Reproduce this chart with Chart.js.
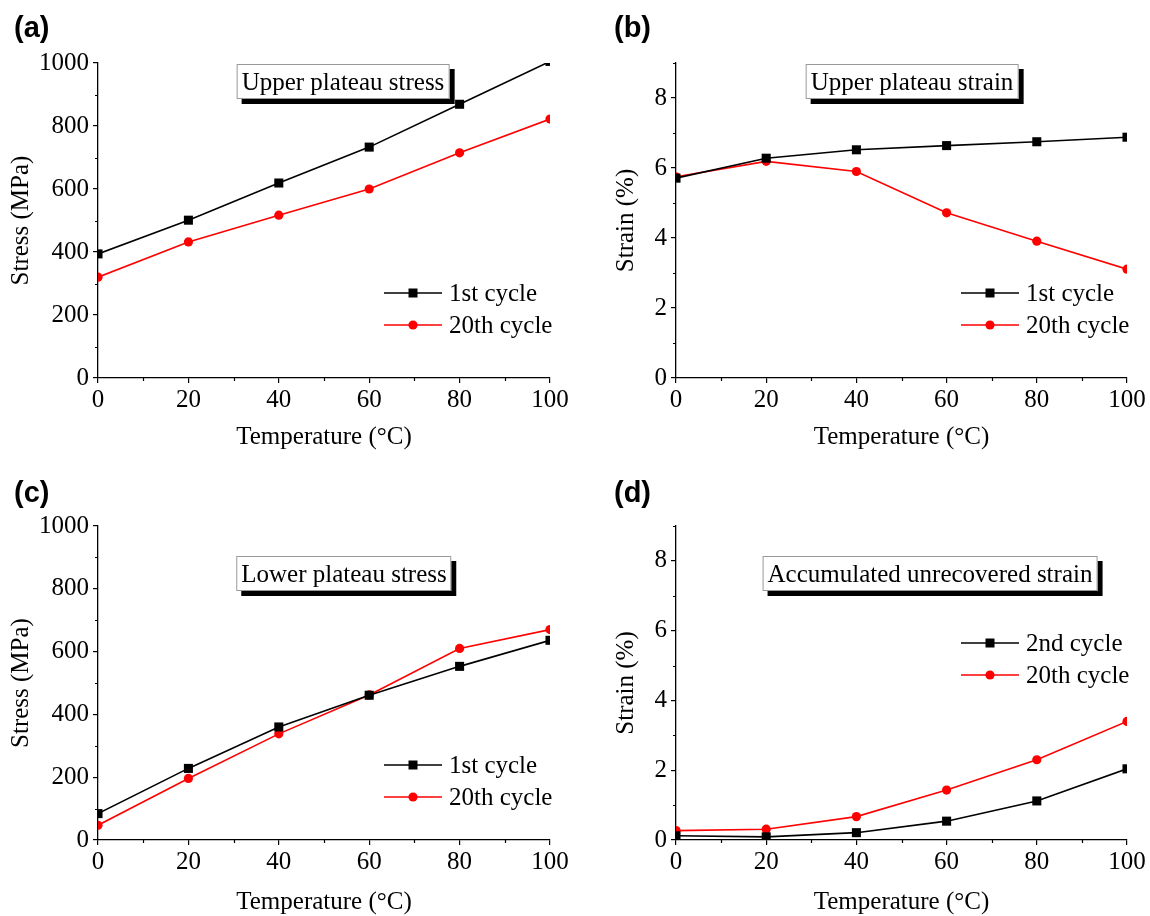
<!DOCTYPE html>
<html>
<head>
<meta charset="utf-8">
<script src="https://cdn.jsdelivr.net/npm/chart.js@4.4.0/dist/chart.umd.min.js"></script>
<style>
  body { margin: 0; background: #fff; }
  #page { position: relative; width: 1150px; height: 916px; }
  .panel { position: absolute; width: 575px; height: 458px; }
  .tag { position: absolute; font: bold 29px "Liberation Sans", Arial, sans-serif; line-height: 1; color: #000; }
  .box {
    position: absolute; transform: translateX(-50%);
    font: 25px "Liberation Serif", "Times New Roman", serif; color: #000;
    background: #fff; border: 1px solid #999; box-shadow: 5px 5px 0 #000;
    padding: 0 4px; line-height: 33px; white-space: nowrap;
  }
</style>
</head>
<body>
<div id="page">
  <div class="panel" style="left:0;top:0"><canvas id="chartA"></canvas></div>
  <div class="panel" style="left:575px;top:0"><canvas id="chartB"></canvas></div>
  <div class="panel" style="left:0;top:458px"><canvas id="chartC"></canvas></div>
  <div class="panel" style="left:575px;top:458px"><canvas id="chartD"></canvas></div>

  <div class="tag" style="left:14px;top:13px">(a)</div>
  <div class="tag" style="left:614px;top:13px">(b)</div>
  <div class="tag" style="left:14px;top:478px">(c)</div>
  <div class="tag" style="left:614px;top:478px">(d)</div>

  <div class="box" style="left:343px;top:64px">Upper plateau stress</div>
  <div class="box" style="left:912px;top:64px">Upper plateau strain</div>
  <div class="box" style="left:344px;top:556px">Lower plateau stress</div>
  <div class="box" style="left:930px;top:556px">Accumulated unrecovered strain</div>
</div>

<script>
// temperatures (°C)
const temps = [0, 20, 40, 60, 80, 100];

// (a) upper plateau stress, MPa
const upperStress1 = [394, 501, 619, 733, 869, 1005];
const upperStress20 = [320, 432, 517, 600, 715, 822];

// (b) upper plateau strain, %
const upperStrain1 = [5.71, 6.28, 6.52, 6.64, 6.75, 6.88];
const upperStrain20 = [5.75, 6.19, 5.90, 4.72, 3.91, 3.11];

// (c) lower plateau stress, MPa
const lowerStress1 = [84, 228, 360, 461, 553, 636];
const lowerStress20 = [47, 196, 338, 462, 610, 670];

// (d) accumulated unrecovered strain, %
const unrecStrain2 = [0.12, 0.09, 0.21, 0.54, 1.12, 2.04];
const unrecStrain20 = [0.27, 0.31, 0.67, 1.43, 2.30, 3.40];

const SERIF = '"Liberation Serif", "Times New Roman", serif';

// minor ticks + inline legend drawn inside the plot area
const decor = {
  id: 'decor',
  afterDraw(chart, args, opts) {
    const ctx = chart.ctx;
    const xs = chart.scales.x, ys = chart.scales.y;
    const area = chart.chartArea;
    ctx.save();
    ctx.strokeStyle = '#000';
    ctx.lineWidth = 1.2;
    ctx.beginPath();
    for (let v = opts.xMinor; v < xs.max + 1e-9; v += opts.xMinor * 2) {
      const px = Math.round(xs.getPixelForValue(v)) + 0.5;
      ctx.moveTo(px, area.bottom);
      ctx.lineTo(px, area.bottom + 3);
    }
    for (let v = opts.yMinor; v < ys.max + 1e-9; v += opts.yMinor * 2) {
      const py = Math.round(ys.getPixelForValue(v)) + 0.5;
      ctx.moveTo(area.left, py);
      ctx.lineTo(area.left - 3, py);
    }
    ctx.stroke();

    // legend
    ctx.font = '25px ' + SERIF;
    ctx.textBaseline = 'middle';
    chart.data.datasets.forEach((ds, i) => {
      const y = area.bottom + opts.legendY[i];
      const x0 = area.right - 166, x1 = area.right - 108, xm = area.right - 137;
      ctx.strokeStyle = ds.borderColor;
      ctx.lineWidth = 1.6;
      ctx.beginPath();
      ctx.moveTo(x0, y);
      ctx.lineTo(x1, y);
      ctx.stroke();
      ctx.fillStyle = ds.backgroundColor;
      ctx.beginPath();
      if (ds.pointStyle === 'rect') {
        ctx.rect(xm - 4.5, y - 4.5, 9, 9);
      } else {
        ctx.arc(xm, y, 4.6, 0, Math.PI * 2);
      }
      ctx.fill();
      ctx.fillStyle = '#000';
      ctx.fillText(ds.label, area.right - 101, y + 1);
    });
    ctx.restore();
  }
};

function pts(vals) {
  return temps.map((t, i) => ({ x: t, y: vals[i] }));
}

function makeChart(id, d) {
  new Chart(document.getElementById(id), {
    type: 'line',
    data: {
      datasets: [
        {
          label: d.names[0], data: pts(d.series[0]),
          borderColor: '#000', backgroundColor: '#000',
          borderWidth: 1.6, pointStyle: 'rect', pointRadius: 6.4, pointBorderWidth: 0,
          clip: 0
        },
        {
          label: d.names[1], data: pts(d.series[1]),
          borderColor: '#ff0000', backgroundColor: '#ff0000',
          borderWidth: 1.6, pointStyle: 'circle', pointRadius: 4.6, pointBorderWidth: 0,
          clip: 0
        }
      ]
    },
    options: {
      responsive: true,
      maintainAspectRatio: false,
      animation: false,
      layout: { padding: { top: d.padTop, right: d.padRight, left: 0, bottom: 0 } },
      plugins: {
        legend: { display: false },
        tooltip: { enabled: false },
        decor: { xMinor: 10, yMinor: d.yMinor, legendY: d.legendY }
      },
      scales: {
        x: {
          type: 'linear', min: 0, max: 100,
          ticks: {
            stepSize: 20, color: '#000', padding: 2, maxRotation: 0,
            font: { family: SERIF, size: 25 }, callback: v => String(v)
          },
          grid: { drawOnChartArea: false, tickLength: 5, color: '#000', lineWidth: 1.2 },
          border: { color: '#000', width: 1.3 },
          title: {
            display: true, text: 'Temperature (°C)', color: '#000',
            font: { family: SERIF, size: 25, lineHeight: 1 },
            padding: { top: 0, bottom: d.xTitlePad }
          },
          afterFit: s => { s.height = d.xHeight; }
        },
        y: {
          type: 'linear', min: 0, max: d.yMax,
          afterBuildTicks: s => { s.ticks = s.ticks.filter(t => Math.abs(t.value % d.yStep) < 1e-9); },
          ticks: {
            stepSize: d.yStep, color: '#000', padding: 4,
            font: { family: SERIF, size: 25 }, callback: v => String(v)
          },
          grid: { drawOnChartArea: false, tickLength: 5, color: '#000', lineWidth: 1.2 },
          border: { color: '#000', width: 1.3 },
          title: {
            display: true, text: d.yTitle, color: '#000',
            font: { family: SERIF, size: 25, lineHeight: 1 },
            padding: { top: d.yTitlePad, bottom: 0 }
          },
          afterFit: s => { s.width = d.yWidth; }
        }
      }
    },
    plugins: [decor]
  });
}

makeChart('chartA', {
  names: ['1st cycle', '20th cycle'], series: [upperStress1, upperStress20],
  yMax: 1000, yStep: 200, yMinor: 100, yTitle: 'Stress (MPa)',
  padTop: 63, padRight: 25, yWidth: 98, xHeight: 80, yTitlePad: 9, xTitlePad: 8,
  legendY: [-85, -53]
});
makeChart('chartB', {
  names: ['1st cycle', '20th cycle'], series: [upperStrain1, upperStrain20],
  yMax: 9, yStep: 2, yMinor: 1, yTitle: 'Strain (%)',
  padTop: 63, padRight: 23, yWidth: 101, xHeight: 80, yTitlePad: 39, xTitlePad: 8,
  legendY: [-85, -53]
});
makeChart('chartC', {
  names: ['1st cycle', '20th cycle'], series: [lowerStress1, lowerStress20],
  yMax: 1000, yStep: 200, yMinor: 100, yTitle: 'Stress (MPa)',
  padTop: 68, padRight: 25, yWidth: 98, xHeight: 76, yTitlePad: 9, xTitlePad: 1,
  legendY: [-75, -43]
});
makeChart('chartD', {
  names: ['2nd cycle', '20th cycle'], series: [unrecStrain2, unrecStrain20],
  yMax: 9, yStep: 2, yMinor: 1, yTitle: 'Strain (%)',
  padTop: 68, padRight: 23, yWidth: 101, xHeight: 76, yTitlePad: 39, xTitlePad: 1,
  legendY: [-197, -165]
});
</script>
</body>
</html>
